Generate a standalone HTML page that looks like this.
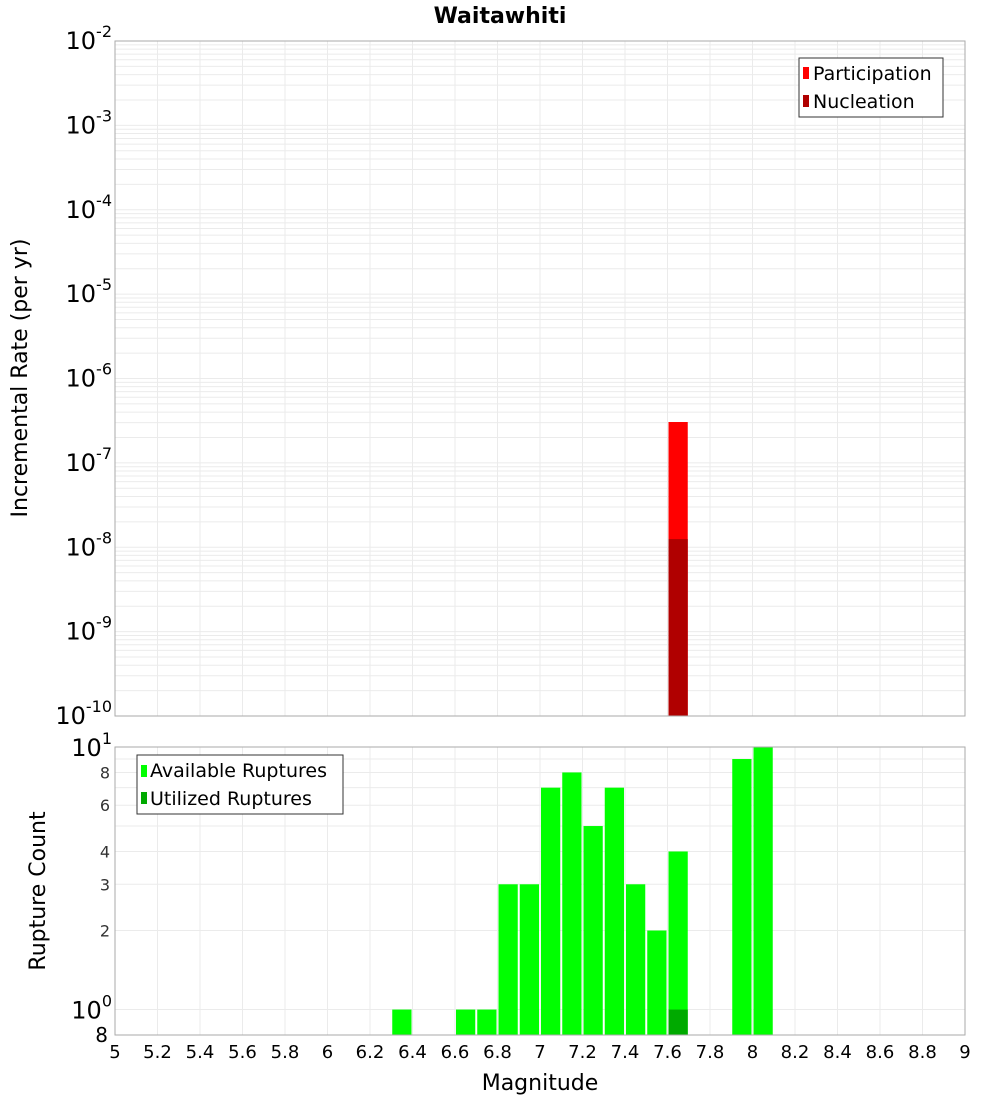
<!DOCTYPE html>
<html><head><meta charset="utf-8"><style>
body{margin:0;background:#fff;}
svg{display:block;font-family:"DejaVu Sans","Liberation Sans",sans-serif;}
</style></head><body>
<svg id="c" width="1000" height="1100">
<rect width="1000" height="1100" fill="#fff"/>
<text x="500" y="23" text-anchor="middle" font-size="22" font-weight="bold">Waitawhiti</text>
<g id="gtop"></g><g id="gbot"></g>
<text transform="translate(27,378) rotate(-90)" text-anchor="middle" font-size="22">Incremental Rate (per yr)</text>
<text transform="translate(45,891) rotate(-90)" text-anchor="middle" font-size="22">Rupture Count</text>
<text x="540" y="1090" text-anchor="middle" font-size="22">Magnitude</text>
<g>
<rect x="799" y="58" width="144" height="59" fill="#fff" stroke="#333"/>
<rect x="803" y="67" width="6" height="12" fill="#ff0000"/>
<text x="813" y="80" font-size="19">Participation</text>
<rect x="803" y="95" width="6" height="12" fill="#b00000"/>
<text x="813" y="108" font-size="19">Nucleation</text>
</g>
<g id="botlegend">
<rect x="137" y="755" width="206" height="59" fill="#fff" stroke="#333"/>
<rect x="141" y="765" width="6" height="12" fill="#00ff00"/>
<text x="150" y="777" font-size="19">Available Ruptures</text>
<rect x="141" y="792" width="6" height="12" fill="#00aa00"/>
<text x="150" y="805" font-size="19">Utilized Ruptures</text>
</g>
</svg>
<script>
const partMags=[7.65];
const partRates=[3.05e-7];
const nuclMags=[7.65];
const nuclRates=[1.25e-8];
const availMags=[6.35,6.65,6.75,6.85,6.95,7.05,7.15,7.25,7.35,7.45,7.55,7.65,7.95,8.05];
const availCounts=[1,1,1,3,3,7,8,5,7,3,2,4,9,10];
const usedMags=[7.65];
const usedCounts=[1];
const xTicks=[5,5.2,5.4,5.6,5.8,6,6.2,6.4,6.6,6.8,7,7.2,7.4,7.6,7.8,8,8.2,8.4,8.6,8.8,9];
const topExps=[-2,-3,-4,-5,-6,-7,-8,-9,-10];
const botTicks=[2,3,4,6,8];

const NS="http://www.w3.org/2000/svg";
const X0=115,X1=965;
const xs=m=>X0+(m-5)/4*(X1-X0);
const T0=41,T1=716;
const yT=v=>T0+(-2-Math.log10(v))*(T1-T0)/8;
const B0=747,B1=1035,dec=(B1-B0)/(1-Math.log10(0.8));
const yB=v=>B0+(1-Math.log10(v))*dec;
function mk(p,t,a,txt){const e=document.createElementNS(NS,t);for(const k in a)e.setAttribute(k,a[k]);if(txt!==undefined)e.textContent=txt;p.appendChild(e);return e;}
const gTop=document.getElementById('gtop'),gBot=document.getElementById('gbot');
for(let e=-10;e<-2;e++)for(let k=1;k<10;k++){const yy=yT(k*Math.pow(10,e));
 const l=mk(gTop,'line',{x1:X0,x2:X1,y1:yy,y2:yy,stroke:'#ebebeb'});
 
 }
for(let k=1;k<=10;k++){const yy=yB(k);
 const l=mk(gBot,'line',{x1:X0,x2:X1,y1:yy,y2:yy,stroke:'#ebebeb'});
 
 }
xTicks.forEach(m=>{
 const l1=mk(gTop,'line',{x1:xs(m),x2:xs(m),y1:T0,y2:T1,stroke:'#ebebeb'});
 
 
 const l2=mk(gBot,'line',{x1:xs(m),x2:xs(m),y1:B0,y2:B1,stroke:'#ebebeb'});
 
 
 const t=mk(gBot,'text',{x:xs(m),y:1058,'text-anchor':'middle','font-size':18},String(m));
 
 
});
const bw=(xs(5.1)-xs(5))-2;
partMags.forEach((m,i)=>{const r=mk(gTop,'rect',{x:xs(m)-bw/2,y:yT(partRates[i]),width:bw,height:T1-yT(partRates[i]),fill:'#ff0000'});
 
 });
nuclMags.forEach((m,i)=>{const r=mk(gTop,'rect',{x:xs(m)-bw/2,y:yT(nuclRates[i]),width:bw,height:T1-yT(nuclRates[i]),fill:'#b00000'});
 
 });
availMags.forEach((m,i)=>{const r=mk(gBot,'rect',{x:xs(m)-bw/2,y:yB(availCounts[i]),width:bw,height:B1-yB(availCounts[i]),fill:'#00ff00'});
 
 });
usedMags.forEach((m,i)=>{const r=mk(gBot,'rect',{x:xs(m)-bw/2,y:yB(usedCounts[i]),width:bw,height:B1-yB(usedCounts[i]),fill:'#00aa00'});
 
 });
mk(gTop,'rect',{x:X0,y:T0,width:X1-X0,height:T1-T0,fill:'none',stroke:'#aaa'});
mk(gBot,'rect',{x:X0,y:B0,width:X1-X0,height:B1-B0,fill:'none',stroke:'#aaa'});
topExps.forEach(e=>{const yy=yT(Math.pow(10,e));
 const t=mk(gTop,'text',{x:112,y:yy+8,'text-anchor':'end','font-size':24});
 
 
 mk(t,'tspan',{},'10');mk(t,'tspan',{dy:-12,'font-size':16},String(e));});
[[10,'1'],[1,'0']].forEach(([v,e])=>{const yy=yB(v);
 const t=mk(gBot,'text',{x:112,y:yy+9,'text-anchor':'end','font-size':24});
 
 
 mk(t,'tspan',{},'10');mk(t,'tspan',{dy:-12,'font-size':16},e);});
botTicks.forEach(v=>{const t=mk(gBot,'text',{x:110,y:yB(v)+6,'text-anchor':'end','font-size':16,fill:'#333'},String(v));
 
 });
const t8=mk(gBot,'text',{x:108,y:1042,'text-anchor':'end','font-size':20},'8');


const svg=document.getElementById('c');
svg.appendChild(document.getElementById('botlegend'));
</script>
</body></html>
